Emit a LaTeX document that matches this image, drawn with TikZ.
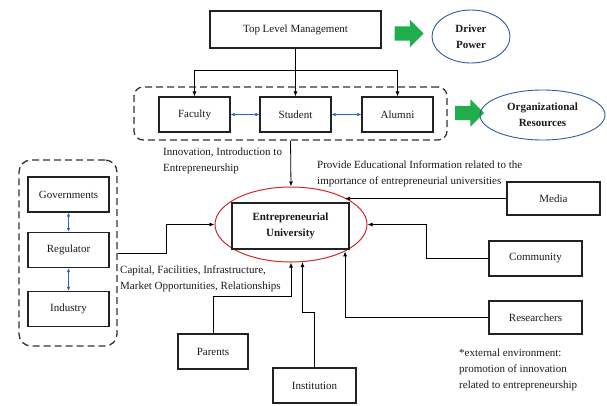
\documentclass[tikz,border=0pt]{standalone}
\usepackage{fontspec}
\setmainfont{Liberation Serif}
\usetikzlibrary{arrows.meta,shapes.geometric,shapes.arrows}

\definecolor{boxline}{HTML}{222222}
\definecolor{groupgray}{HTML}{333333}
\definecolor{textgray}{HTML}{1A1A1A}
\definecolor{linkblue}{HTML}{2F62C8}
\definecolor{ovalblue}{HTML}{2E5A9E}
\definecolor{ovalred}{HTML}{CC2B2B}
\definecolor{pushgreen}{HTML}{1FAE4B}

\begin{document}
\begin{tikzpicture}[
                x=1pt, y=-1pt,
                every node/.style={font=\fontsize{11}{16}\selectfont, text=textgray},
                box/.style={rectangle, draw=boxline, line width=1.1pt, minimum height=35pt, inner sep=2pt},
                group/.style={rectangle, draw=groupgray, line width=1.3pt, dash pattern=on 7pt off 4pt, rounded corners=9pt},
                goal/.style={ellipse, draw=ovalblue, line width=0.9pt, inner sep=0pt, align=center, font=\fontsize{11}{16}\selectfont\bfseries},
                push/.style={single arrow, fill=pushgreen, draw=none, inner xsep=0pt, inner ysep=7pt, minimum height=29pt, single arrow head extend=6.5pt},
                conn/.style={draw=black, line width=0.8pt, -{Latex[length=5pt,width=4pt]}},
                link/.style={draw=linkblue, line width=0.9pt, {Latex[length=4pt,width=3.5pt]}-{Latex[length=4pt,width=3.5pt]}},
                note/.style={anchor=west, inner sep=0pt, align=left}
            ]
                \useasboundingbox (0,0) rectangle (607,405);

                % top of the hierarchy
                \node [box, minimum width=171pt, minimum height=37pt] (TLM) at (295.5,29.5) {Top Level Management};
                \node [push] (push1) at (405.5,33.5) {};
                \node [goal, minimum width=78pt, minimum height=53pt] (driver) at (471,36.5) {Driver\\Power};

                % organisational resources
                \node [group, minimum width=313pt, minimum height=53pt] (orggrp) at (290.5,113.5) {};
                \node [box, minimum width=71pt] (Faculty) at (194.5,114.5) {Faculty};
                \node [box, minimum width=71pt] (Student) at (295.5,114.5) {Student};
                \node [box, minimum width=71pt] (Alumni) at (397.5,114.5) {Alumni};
                \node [push] (push2) at (466,113) {};
                \node [goal, minimum width=125pt, minimum height=50pt] (orgres) at (542.5,115) {Organizational\\Resources};

                \path (TLM.south) -- coordinate[pos=0.45] (split) (Student.north);
                \draw [conn] (TLM.south) -- (Student.north);
                \draw [conn] (split) -| (Faculty.north);
                \draw [conn] (split) -| (Alumni.north);
                \draw [link] (Faculty.east) -- (Student.west);
                \draw [link] (Student.east) -- (Alumni.west);

                % the university
                \node [ellipse, draw=ovalred, line width=1pt, minimum width=152pt, minimum height=75pt] (EUell) at (291,224.5) {};
                \node [box, minimum width=117pt, minimum height=46pt, align=center, font=\fontsize{11}{16}\selectfont\bfseries] (EUbox) at (290.5,226) {Entrepreneurial\\University};

                \draw [conn] (orggrp.south) -- (EUell.north);
                \node [note] (innov) at (163,161) {Innovation, Introduction to\\Entrepreneurship};

                % regulators
                \node [group, minimum width=98pt, minimum height=186pt, rounded corners=12pt] (leftgrp) at (68,253) {};
                \node [box, minimum width=81pt] (Governments) at (68.5,194.5) {Governments};
                \node [box, minimum width=81pt] (Regulator) at (68.5,250) {Regulator};
                \node [box, minimum width=81pt] (Industry) at (68.5,309) {Industry};
                \draw [link] (Governments.south) -- (Regulator.north);
                \draw [link] (Regulator.south) -- (Industry.north);
                \draw [conn] ([yshift=-3pt]Regulator.east -| leftgrp.east) -- ++(49,0) |- (EUell.west);
                \node [note] (capital) at (120,279) {Capital, Facilities, Infrastructure,\\Market Opportunities, Relationships};

                % external environment
                \node [box, minimum width=93pt, minimum height=33pt] (Media) at (553.5,198.5) {Media};
                \node [box, minimum width=93pt] (Community) at (535.5,258.5) {Community};
                \node [box, minimum width=93pt, minimum height=33pt] (Researchers) at (535.5,317.5) {Researchers};
                \node [box, minimum width=70pt] (Parents) at (213,351.5) {Parents};
                \node [box, minimum width=83pt] (Institution) at (314.5,385.5) {Institution};

                \draw [conn] (Media.west) -- (Media.west -| EUell.north east);
                \node [note] (provide) at (317,174) {Provide Educational Information related to the\\importance of entrepreneurial universities};
                \draw [conn] (Community.west) -- ++(-62,0) |- (EUell.east);
                \draw [conn] (Researchers.west) -| (EUell.south east);
                \draw [conn] (Parents.north) -- ++(0,-37) -| (EUell.south);
                \draw [conn] (Institution.north) -- ++(0,-55) -| (EUell.-73);

                \node [note] (extenv) at (459,369.5) {*external environment:\\promotion of innovation\\related to entrepreneurship};
            \end{tikzpicture}
\end{document}
